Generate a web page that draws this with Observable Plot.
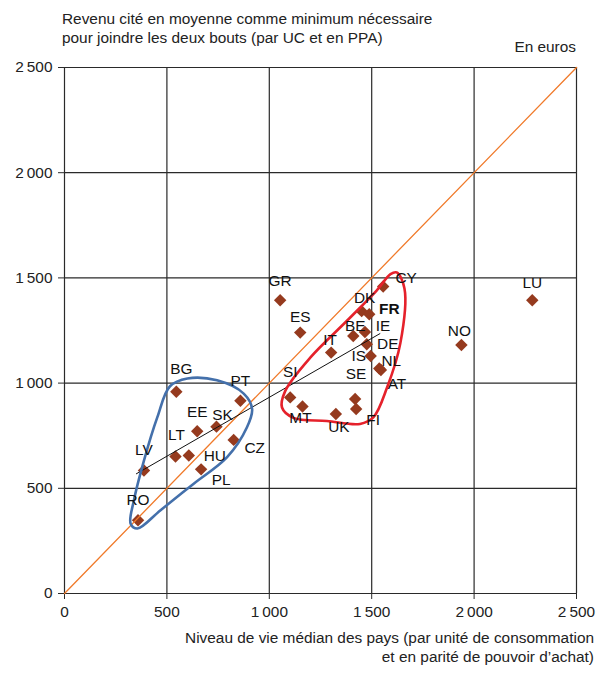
<!DOCTYPE html>
<html><head><meta charset="utf-8">
<script src="https://cdn.jsdelivr.net/npm/d3@7"></script>
<script src="https://cdn.jsdelivr.net/npm/@observablehq/plot@0.6"></script>
<style>body{margin:0;background:#fff;} svg{display:block}</style>
</head><body><div id="chart"></div>
<script>
// ---- data ----
const countries    = ["GR","ES","CY","DK","FR","BE","IE","DE","IS","NL","AT","SE","FI","UK","MT","SI","IT","LU","NO","BG","PT","EE","SK","CZ","LT","HU","PL","LV","RO"];
const medianLiving = [1053,1151,1556,1451,1488,1410,1467,1476,1495,1537,1545,1419,1424,1325,1162,1102,1302,2284,1938, 546, 859, 648, 742, 826, 542, 607, 667, 388, 359];
const minIncome    = [1394,1240,1459,1342,1327,1224,1243,1185,1129,1069,1062, 924, 877, 853, 889, 932,1145,1394,1181, 959, 916, 771, 793, 730, 651, 656, 590, 585, 348];
const tickValues   = [0, 500, 1000, 1500, 2000, 2500];
const diagonal     = [0, 2500];
const trendX       = [351, 1540];
const trendY       = [569, 1235];
const redLoopX  = [1622,1660,1640,1575,1508,1443,1281,1118,1062,1078,1200,1378,1524,1592];
const redLoopY  = [1526,1450,1190, 979, 837, 806, 820, 835, 884, 963,1121,1295,1440,1518];
const blueLoopX = [600, 745, 875, 916, 891, 794, 631, 469, 356, 323, 339, 388, 453, 515];
const blueLoopY = [1022,1013,950, 877, 790, 648, 522, 396, 309, 332, 443, 632, 837, 985];
const titleLines = ["Revenu cité en moyenne comme minimum nécessaire", "pour joindre les deux bouts (par UC et en PPA)"];
const unitLabel  = "En euros";
const xTitleLines = ["Niveau de vie médian des pays (par unité de consommation", "et en parité de pouvoir d’achat)"];

// label nudges (layout only, pixels)
const labelNudge = {GR:[0,-19],ES:[0,-16],CY:[23,-8],DK:[3,-13],FR:[20,-5],BE:[2,-10],IE:[18,-6],DE:[21,0],
  IS:[-12,0],NL:[12,-8],AT:[16,14],SE:[1,-25],FI:[17,11],UK:[3,13],MT:[-2,12],SI:[0,-25],IT:[-1,-13],
  LU:[0,-17],NO:[-2,-14],BG:[5,-23],PT:[0,-20],EE:[0,-19],SK:[6,-12],CZ:[21,8],LT:[1,-21],HU:[26,1],
  PL:[20,11],LV:[0,-20],RO:[0,-20]};

const pts = countries.map((c,i)=>({c, x: medianLiving[i], y: minIncome[i]}));
const red = redLoopX.map((x,i)=>({x, y: redLoopY[i]}));
const blue = blueLoopX.map((x,i)=>({x, y: blueLoopY[i]}));
const trend = trendX.map((x,i)=>({x, y: trendY[i]}));
const fmt = d => d < 1000 ? String(d) : `${Math.floor(d/1000)}\u2009${String(d%1000).padStart(3,"0")}`;

const gridStyle = {stroke:"#2a2a2a", strokeOpacity:1, strokeWidth:1.2};
const font = "'Liberation Sans', Arial, sans-serif";
const fs = 15.4;

const plot = Plot.plot({
  width: 600, height: 673,
  marginLeft: 64, marginRight: 24, marginTop: 67, marginBottom: 80,
  style: {fontFamily: font, fontSize: fs + "px", color: "#222", background: "#fff", overflow: "visible"},
  x: {domain: [0, 2500]},
  y: {domain: [0, 2500]},
  marks: [
    Plot.gridX({ticks: tickValues, ...gridStyle}),
    Plot.gridY({ticks: tickValues, ...gridStyle}),
    Plot.axisX({ticks: tickValues, tickFormat: fmt, tickSize: 6, tickPadding: 7, label: null, fontSize: fs, stroke: "#2a2a2a"}),
    Plot.axisY({ticks: tickValues, tickFormat: fmt, tickSize: 6, tickPadding: 6, label: null, fontSize: fs, stroke: "#2a2a2a"}),
    Plot.dot(pts, {x: "x", y: "y", symbol: "diamond2", r: 5.6, fill: "#953a1e"}),
    Plot.line(diagonal, {x: d => d, y: d => d, stroke: "#f07a2a", strokeWidth: 1.3}),
    Plot.line(trend, {x: "x", y: "y", stroke: "#111", strokeWidth: 1}),
    Plot.line(red, {x: "x", y: "y", curve: "catmull-rom-closed", stroke: "#e5212b", strokeWidth: 2.6}),
    Plot.line(blue, {x: "x", y: "y", curve: "catmull-rom-closed", stroke: "#4470ab", strokeWidth: 2.6}),
    ...pts.map(p => Plot.text([p], {x: "x", y: "y", text: "c", dx: labelNudge[p.c][0], dy: labelNudge[p.c][1],
      fontSize: fs, fill: "#111", fontWeight: p.c === "FR" ? "bold" : "normal"}))
  ]
});

const svg = d3.select(plot);
const addText = (str, x, y, anchor) => svg.append("text").attr("x", x).attr("y", y)
  .attr("text-anchor", anchor).attr("fill", "#222").style("font-family", font).style("font-size", fs + "px").text(str);
addText(titleLines[0], 62, 24, "start");
addText(titleLines[1], 62, 43, "start");
addText(unitLabel, 576, 52, "end");
addText(xTitleLines[0], 594, 643, "end");
addText(xTitleLines[1], 594, 662, "end");

document.getElementById("chart").appendChild(plot);
</script></body></html>
